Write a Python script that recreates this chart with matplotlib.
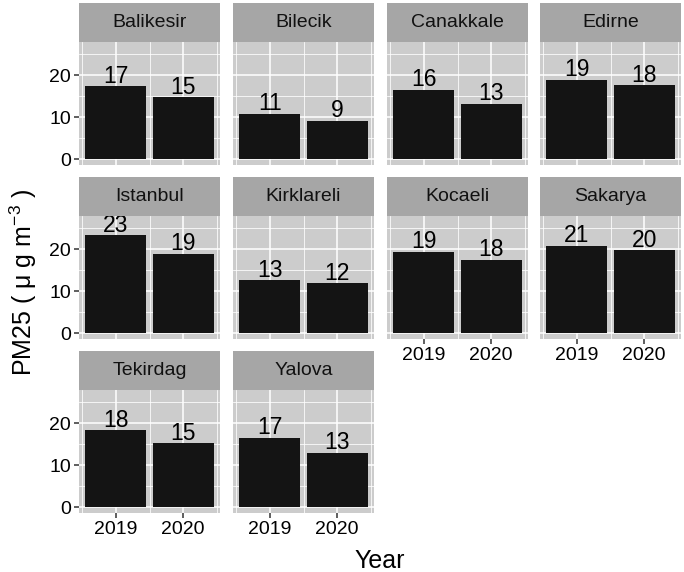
import numpy as np
import matplotlib
matplotlib.use("Agg")
import matplotlib.pyplot as plt

plt.rcParams['font.family'] = ['Liberation Sans', 'DejaVu Sans']
plt.rcParams['mathtext.fontset'] = 'custom'
plt.rcParams['mathtext.rm'] = 'Liberation Sans'
plt.rcParams['mathtext.it'] = 'Liberation Sans'

# data
cities = ['Balikesir', 'Bilecik', 'Canakkale', 'Edirne', 'Istanbul',
          'Kirklareli', 'Kocaeli', 'Sakarya', 'Tekirdag', 'Yalova']
years = [2019, 2020]
year_labels = ['2019', '2020']
pm25_2019 = [17.4, 10.9, 16.5, 18.9, 23.3, 12.6, 19.4, 20.8, 18.4, 16.6]
pm25_2020 = [14.8, 9.2, 13.2, 17.6, 18.9, 11.9, 17.5, 19.8, 15.2, 13.0]
labels_2019 = [17, 11, 16, 19, 23, 13, 19, 21, 18, 17]
labels_2020 = [15, 9, 13, 18, 19, 12, 18, 20, 15, 13]

W, H = 684, 572
fig = plt.figure(figsize=(W / 100, H / 100), dpi=100)

col_x = [79, 233, 387, 540]
panel_w = 141
row_strip = [3, 177, 351]
strip_h = 39
panel_h = 123

panel_bg = '#cccccc'
strip_bg = '#a6a6a6'
bar_col = '#141414'


def fx(px):
    return px / W


def fy(py):
    return 1 - py / H


for i, city in enumerate(cities):
    row, col = divmod(i, 4)
    x0 = col_x[col]
    top = row_strip[row]

    ax = fig.add_axes([fx(x0), fy(top + strip_h + panel_h), panel_w / W, panel_h / H])
    ax.set_facecolor(panel_bg)
    vals = [pm25_2019[i], pm25_2020[i]]
    labs = [labels_2019[i], labels_2020[i]]
    ax.bar(years, vals, width=0.9, color=bar_col, zorder=3)
    for yr, v, lb in zip(years, vals, labs):
        ax.annotate(str(lb), (yr, v), xytext=(0, 2.5), textcoords='offset points',
                    ha='center', va='baseline', fontsize=16.5, color='black',
                    zorder=4, annotation_clip=False, clip_on=True)
    ax.set_xlim(2018.455, 2020.545)
    ax.set_ylim(-1.33, 27.9)
    ax.set_xticks(years, labels=year_labels)
    ax.set_xticks([2018.5, 2019.5, 2020.5], minor=True)
    ax.set_yticks([0, 10, 20], labels=['0', '10', '20'])
    ax.set_yticks([5, 15, 25], minor=True)
    ax.grid(which='major', color='white', linewidth=1.1, zorder=0)
    ax.grid(which='minor', color='white', linewidth=0.55, zorder=0)
    ax.set_axisbelow(True)
    for s in ax.spines.values():
        s.set_visible(False)
    ax.tick_params(which='minor', length=0)
    ax.tick_params(which='major', length=3.6, width=1.1, color='#333333',
                   labelsize=14, labelcolor='black', pad=2)

    bottom_of_col = (col < 2 and row == 2) or (col >= 2 and row == 1)
    if not bottom_of_col:
        ax.tick_params(axis='x', length=0, labelbottom=False)
    if col != 0:
        ax.tick_params(axis='y', length=0, labelleft=False)

    sax = fig.add_axes([fx(x0), fy(top + strip_h), panel_w / W, strip_h / H])
    sax.set_facecolor(strip_bg)
    sax.set_xticks([])
    sax.set_yticks([])
    for s in sax.spines.values():
        s.set_visible(False)
    sax.text(0.5, 0.5, city, ha='center', va='center', fontsize=14,
             color='#111111', transform=sax.transAxes)

fig.text(fx(380), fy(568), 'Year', ha='center', va='baseline', fontsize=18)
fig.text(fx(23), fy(282), r'PM25 ( μ g m$^{-3}$ )', ha='center', va='center',
         rotation=90, fontsize=18)

fig.savefig('out.png', dpi=100)
